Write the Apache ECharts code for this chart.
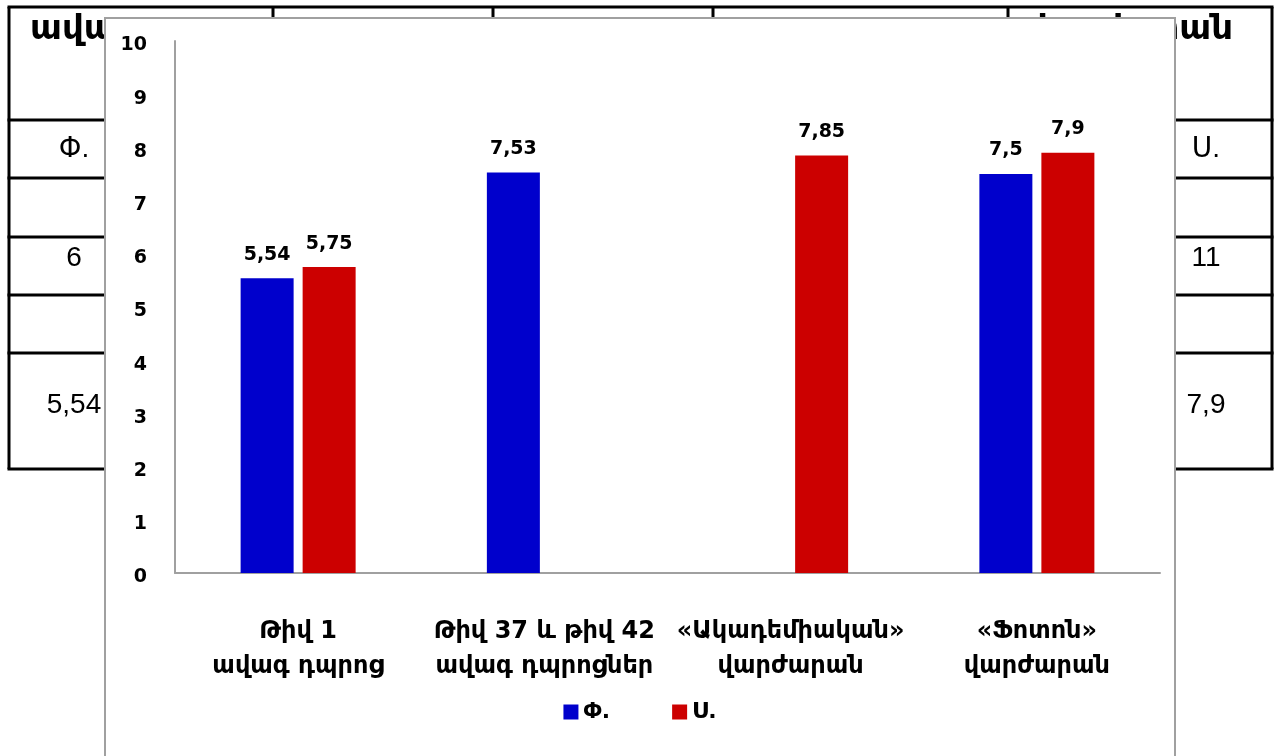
<!DOCTYPE html>
<html>
<head>
<meta charset="utf-8">
<script src="https://cdn.jsdelivr.net/npm/echarts@6/dist/echarts.min.js"></script>
<style>
  html, body { margin: 0; padding: 0; background: #ffffff; }
  #chart { width: 1280px; height: 756px; }
</style>
</head>
<body>
<div id="chart"></div>
<script>
// Schools compared on the chart
const categories = [
  'Թիվ 1\nավագ դպրոց',
  'Թիվ 37 և թիվ 42\nավագ դպրոցներ',
  '«Ակադեմիական»\nվարժարան',
  '«Ֆոտոն»\nվարժարան'
];
// Series names
const seriesNames = ['Փ.', 'Ս.'];
// Average scores per school (null = no value for that group)
const valuesF = [5.54, 7.53, null, 7.5];
const valuesS = [5.75, null, 7.85, 7.9];

// Text of the table sitting behind the chart
const tableHeaders = ['ավագ դպրոց', 'վարժարան'];
const tableLeftCells = ['Փ.', '6', '5,54'];
const tableRightCells = ['Ս.', '11', '7,9'];

// Table grid geometry
const rowLines = [7, 120, 178, 237, 295, 353, 469];
const colLines = [9, 273, 493, 713, 1008, 1272];
const cellTextY = [149, 258, 405];

const BLUE = '#0000CC';
const RED = '#CC0000';
const AXIS_GREY = '#a0a0a0';
const LABEL_FONT = '"DejaVu Sans", "Noto Sans", sans-serif';

function fmt(v) {
  return String(v).replace('.', ',');
}

const graphics = [];
// table lines
rowLines.forEach(y => {
  graphics.push({
    type: 'line', z: -30, silent: true,
    shape: { x1: colLines[0] - 1.5, y1: y, x2: colLines[colLines.length - 1] + 1.5, y2: y },
    style: { stroke: '#000', lineWidth: 3 }
  });
});
colLines.forEach(x => {
  graphics.push({
    type: 'line', z: -30, silent: true,
    shape: { x1: x, y1: rowLines[0], x2: x, y2: rowLines[rowLines.length - 1] },
    style: { stroke: '#000', lineWidth: 3 }
  });
});
// table header text
graphics.push({
  type: 'text', z: -29, silent: true, x: 30, y: 30,
  style: { text: tableHeaders[0], font: 'bold 34px "DejaVu Sans", sans-serif', fill: '#000',
           textAlign: 'left', textVerticalAlign: 'middle' }
});
graphics.push({
  type: 'text', z: -29, silent: true, x: 1233, y: 30,
  style: { text: tableHeaders[1], font: 'bold 34px "DejaVu Sans", sans-serif', fill: '#000',
           textAlign: 'right', textVerticalAlign: 'middle' }
});
// table cell text
tableLeftCells.forEach((t, i) => {
  graphics.push({
    type: 'text', z: -29, silent: true, x: 74, y: cellTextY[i],
    style: { text: t, font: '28px "Liberation Sans", "DejaVu Sans", sans-serif', fill: '#000',
             textAlign: 'center', textVerticalAlign: 'middle' }
  });
});
tableRightCells.forEach((t, i) => {
  graphics.push({
    type: 'text', z: -29, silent: true, x: 1206, y: cellTextY[i],
    style: { text: t, font: '28px "Liberation Sans", "DejaVu Sans", sans-serif', fill: '#000',
             textAlign: 'center', textVerticalAlign: 'middle' }
  });
});
// chart frame on top of the table
graphics.push({
  type: 'rect', z: -10, silent: true,
  shape: { x: 105, y: 18, width: 1070, height: 760 },
  style: { fill: '#ffffff', stroke: AXIS_GREY, lineWidth: 2 }
});

const chart = echarts.init(document.getElementById('chart'), null, { renderer: 'canvas' });

const labelCfg = {
  show: true,
  position: 'top',
  distance: 14,
  color: '#000',
  fontFamily: LABEL_FONT,
  fontSize: 19,
  fontWeight: 'bold',
  formatter: p => (p.value == null ? '' : fmt(p.value))
};

chart.setOption({
  animation: false,
  backgroundColor: '#ffffff',
  graphic: { elements: graphics },
  grid: { left: 175, right: 120, top: 41, bottom: 183, containLabel: false },
  legend: {
    data: seriesNames,
    left: 'center',
    top: 696,
    icon: 'rect',
    itemWidth: 15,
    itemHeight: 15,
    itemGap: 62,
    textStyle: { fontFamily: LABEL_FONT, fontSize: 22, fontWeight: 'bold', color: '#000' }
  },
  xAxis: {
    type: 'category',
    data: categories,
    axisLine: { show: true, lineStyle: { color: AXIS_GREY, width: 2 } },
    axisTick: { show: false },
    axisLabel: {
      interval: 0,
      margin: 41,
      lineHeight: 35,
      color: '#000',
      fontFamily: LABEL_FONT,
      fontSize: 24,
      fontWeight: 'bold'
    },
    splitLine: { show: false }
  },
  yAxis: {
    type: 'value',
    min: 0,
    max: 10,
    interval: 1,
    axisLine: { show: true, lineStyle: { color: AXIS_GREY, width: 2 } },
    axisTick: { show: false },
    splitLine: { show: false },
    axisLabel: {
      margin: 28,
      color: '#000',
      fontFamily: LABEL_FONT,
      fontSize: 19,
      fontWeight: 'bold',
      verticalAlign: 'top',
      padding: [-5, 0, 0, 0]
    }
  },
  series: [
    {
      name: seriesNames[0],
      type: 'bar',
      data: valuesF,
      barWidth: 53,
      barGap: '17%',
      itemStyle: { color: BLUE },
      label: labelCfg
    },
    {
      name: seriesNames[1],
      type: 'bar',
      data: valuesS,
      barWidth: 53,
      barGap: '17%',
      itemStyle: { color: RED },
      label: labelCfg
    }
  ]
});
</script>
</body>
</html>
